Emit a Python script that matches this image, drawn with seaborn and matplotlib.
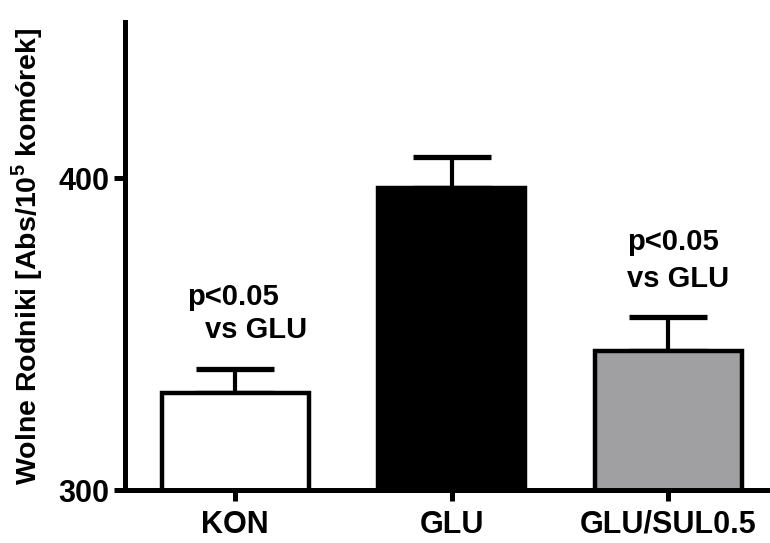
import numpy as np
import pandas as pd
import matplotlib
matplotlib.use("Agg")
import matplotlib.pyplot as plt
import seaborn as sns

# data
groups = ["KON", "GLU", "GLU/SUL0.5"]
means = [331.3, 396.8, 344.5]
sem = [7.6, 10.0, 11.0]
colors = ["#ffffff", "#000000", "#a09fa4"]

sns.set_style("white")
plt.rcParams["font.family"] = ["Liberation Sans", "DejaVu Sans"]
plt.rcParams["font.weight"] = "bold"
plt.rcParams["text.color"] = "black"
plt.rcParams["axes.labelcolor"] = "black"
plt.rcParams["xtick.color"] = "black"
plt.rcParams["ytick.color"] = "black"
plt.rcParams["xtick.bottom"] = True
plt.rcParams["ytick.left"] = True
plt.rcParams["mathtext.fontset"] = "custom"
plt.rcParams["mathtext.rm"] = "Liberation Sans:bold"
plt.rcParams["mathtext.bf"] = "Liberation Sans:bold"

df = pd.DataFrame({"grupa": groups, "wartosc": means})

fig = plt.figure(figsize=(7.7, 5.43), dpi=100)
ax = fig.add_axes([0.162, 0.097, 0.838, 0.862])

sns.barplot(data=df, x="grupa", y="wartosc", hue="grupa", palette=colors,
            order=groups, legend=False, errorbar=None, width=0.68,
            edgecolor="black", linewidth=3.2, ax=ax, zorder=3)

# upper error bars only
eb = ax.errorbar(range(len(groups)), means, yerr=[np.zeros(len(sem)), sem],
                 fmt="none", ecolor="black", elinewidth=3, capsize=28,
                 capthick=3.8, zorder=2)
for cap in eb[1]:
    cap.set_solid_capstyle("round")

ax.set_ylim(300, 450)
ax.set_xlim(-0.51, 2.47)
ax.set_yticks([300, 400])
ax.set_xlabel("")
ax.set_ylabel(r"Wolne Rodniki [Abs/10$^{5}$ komórek]", fontsize=20.5,
              fontweight="bold", labelpad=10, color="black")

for s in ["top", "right"]:
    ax.spines[s].set_visible(False)
for s in ["left", "bottom"]:
    ax.spines[s].set_linewidth(3.6)
    ax.spines[s].set_color("black")
    ax.spines[s].set_zorder(5)

ax.tick_params(axis="both", direction="out", length=8, width=3.6,
               labelsize=22, colors="black", pad=3,
               bottom=True, left=True)
ax.tick_params(axis="x", pad=6)
for lab in ax.get_xticklabels() + ax.get_yticklabels():
    lab.set_fontweight("bold")
    lab.set_color("black")

# significance notes
note = dict(fontsize=21, fontweight="bold", va="center", ha="left", color="black")
ax.text(-0.22, 362, "p<0.05", **note)
ax.text(-0.14, 351.5, "vs GLU", **note)
ax.text(1.81, 379.7, "p<0.05", **note)
ax.text(1.81, 367.8, "vs GLU", **note)

plt.savefig("out.png", dpi=100)
